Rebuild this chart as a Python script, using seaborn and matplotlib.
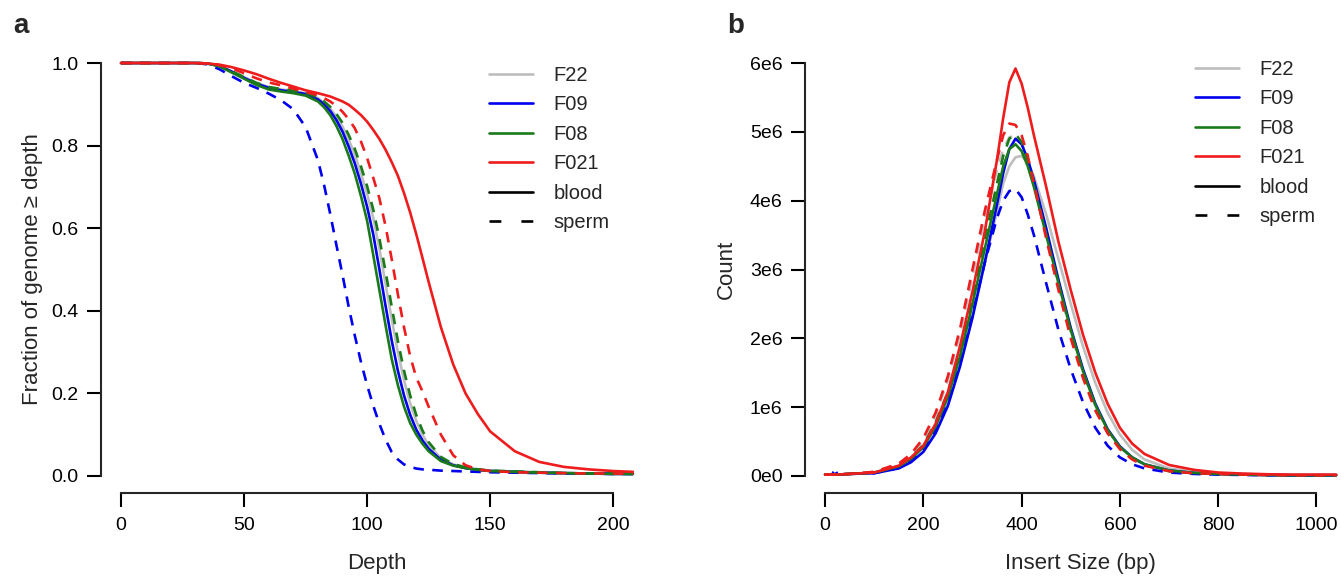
import matplotlib.pyplot as plt  # matplotlib for the figure and custom legend handles
from matplotlib.lines import Line2D
import pandas as pd
import seaborn as sns

# samples and colours
samples = ['F22', 'F09', 'F08', 'F021']
tissues = ['blood', 'sperm']
colors = {'F22': '#bebebe', 'F09': '#0000ee', 'F08': '#1a7a1a', 'F021': '#ee1c1c'}

# panel a: fraction of genome >= depth
depth = [0, 10, 20, 30, 35, 40, 45, 50, 55, 60, 65, 70, 75, 80, 82.5, 85, 87.5, 90, 92.5, 95,
         97.5, 100, 102.5, 105, 107.5, 110, 112.5, 115, 117.5, 120, 122.5, 125, 130, 135, 140,
         145, 150, 160, 170, 180, 190, 200, 208]
frac_F22_blood = [1, 1, 1, 1, 0.999, 0.993, 0.98, 0.966, 0.952, 0.942, 0.936, 0.932, 0.927, 0.915,
                  0.904, 0.89, 0.87, 0.846, 0.815, 0.778, 0.733, 0.683, 0.625, 0.55, 0.465, 0.38,
                  0.3, 0.232, 0.176, 0.133, 0.1, 0.075, 0.043, 0.028, 0.02, 0.016, 0.013, 0.011,
                  0.009, 0.007, 0.006, 0.006, 0.005]
frac_F09_blood = [1, 1, 1, 1, 0.999, 0.993, 0.979, 0.964, 0.95, 0.94, 0.934, 0.93, 0.925, 0.912,
                  0.9, 0.884, 0.862, 0.834, 0.798, 0.757, 0.708, 0.652, 0.585, 0.5, 0.412, 0.328,
                  0.255, 0.195, 0.148, 0.112, 0.086, 0.066, 0.039, 0.026, 0.019, 0.015, 0.012,
                  0.010, 0.008, 0.007, 0.006, 0.005, 0.005]
frac_F08_blood = [1, 1, 1, 1, 0.999, 0.992, 0.977, 0.962, 0.947, 0.936, 0.931, 0.927, 0.921, 0.907,
                  0.893, 0.874, 0.848, 0.816, 0.776, 0.732, 0.678, 0.618, 0.535, 0.45, 0.365, 0.283,
                  0.22, 0.168, 0.128, 0.1, 0.078, 0.06, 0.036, 0.025, 0.019, 0.015, 0.012, 0.010,
                  0.008, 0.007, 0.006, 0.005, 0.005]
frac_F021_blood = [1, 1, 1, 1, 0.999, 0.996, 0.99, 0.982, 0.973, 0.962, 0.952, 0.943, 0.934, 0.927,
                   0.923, 0.919, 0.913, 0.907, 0.899, 0.887, 0.874, 0.858, 0.838, 0.816, 0.79, 0.76,
                   0.727, 0.685, 0.638, 0.585, 0.528, 0.47, 0.36, 0.27, 0.2, 0.15, 0.108, 0.06,
                   0.034, 0.022, 0.016, 0.012, 0.01]
frac_F09_sperm = [1, 1, 1, 1, 0.997, 0.985, 0.968, 0.952, 0.94, 0.926, 0.91, 0.888, 0.845, 0.765,
                  0.705, 0.635, 0.56, 0.487, 0.41, 0.34, 0.276, 0.22, 0.17, 0.126, 0.088, 0.058,
                  0.04, 0.028, 0.022, 0.018, 0.016, 0.015, 0.013, 0.012, 0.011, 0.010, 0.009,
                  0.008, 0.007, 0.006, 0.006, 0.005, 0.005]
frac_F08_sperm = [1, 1, 1, 1, 0.999, 0.993, 0.98, 0.966, 0.952, 0.942, 0.937, 0.933, 0.928, 0.917,
                  0.907, 0.894, 0.877, 0.855, 0.826, 0.792, 0.75, 0.702, 0.645, 0.575, 0.495, 0.41,
                  0.327, 0.255, 0.195, 0.147, 0.11, 0.082, 0.046, 0.029, 0.021, 0.016, 0.013,
                  0.011, 0.009, 0.007, 0.006, 0.006, 0.005]
frac_F021_sperm = [1, 1, 1, 1, 0.999, 0.995, 0.987, 0.975, 0.963, 0.953, 0.946, 0.938, 0.93, 0.922,
                   0.915, 0.907, 0.896, 0.882, 0.864, 0.842, 0.81, 0.77, 0.722, 0.672, 0.605, 0.525,
                   0.44, 0.36, 0.29, 0.238, 0.205, 0.168, 0.1, 0.05, 0.026, 0.016, 0.012, 0.009,
                   0.008, 0.007, 0.006, 0.006, 0.005]

# panel b: insert size counts (millions)
insert = [0, 15, 20, 25, 50, 100, 150, 175, 200, 225, 250, 275, 300, 325, 350, 362.5, 375, 387.5,
          400, 412.5, 425, 450, 475, 500, 525, 550, 575, 600, 625, 650, 700, 750, 800, 850, 900,
          950, 1000, 1040]
count_F22_blood = [0.02, 0.02, 0.02, 0.02, 0.03, 0.05, 0.14, 0.25, 0.42, 0.7, 1.1, 1.65, 2.35, 3.1,
                   3.85, 4.25, 4.5, 4.63, 4.65, 4.55, 4.35, 3.8, 3.15, 2.5, 1.88, 1.35, 0.92, 0.6,
                   0.38, 0.24, 0.11, 0.06, 0.04, 0.03, 0.02, 0.02, 0.02, 0.02]
count_F09_blood = [0.02, 0.02, 0.02, 0.02, 0.03, 0.04, 0.11, 0.2, 0.35, 0.62, 1.02, 1.6, 2.3, 3.1,
                   3.95, 4.4, 4.75, 4.9, 4.82, 4.6, 4.3, 3.6, 2.85, 2.15, 1.55, 1.05, 0.68, 0.43,
                   0.27, 0.17, 0.08, 0.045, 0.03, 0.02, 0.015, 0.01, 0.01, 0.01]
count_F08_blood = [0.02, 0.02, 0.02, 0.02, 0.03, 0.05, 0.14, 0.25, 0.42, 0.72, 1.15, 1.75, 2.5, 3.3,
                   4.1, 4.5, 4.75, 4.82, 4.72, 4.5, 4.2, 3.5, 2.8, 2.12, 1.52, 1.03, 0.67, 0.42,
                   0.27, 0.17, 0.08, 0.045, 0.03, 0.02, 0.015, 0.01, 0.01, 0.01]
count_F021_blood = [0.02, 0.02, 0.02, 0.02, 0.03, 0.05, 0.15, 0.27, 0.44, 0.76, 1.22, 1.9, 2.68, 3.55,
                    4.6, 5.2, 5.72, 5.92, 5.7, 5.35, 4.95, 4.2, 3.4, 2.7, 2.05, 1.5, 1.05, 0.7,
                    0.47, 0.32, 0.16, 0.09, 0.05, 0.035, 0.025, 0.02, 0.02, 0.02]
count_F22_sperm = [0.02, 0.02, 0.02, 0.02, 0.03, 0.06, 0.17, 0.3, 0.52, 0.88, 1.4, 2.08, 2.9, 3.75,
                   4.45, 4.75, 4.92, 4.95, 4.85, 4.6, 4.25, 3.5, 2.75, 2.08, 1.5, 1.02, 0.67, 0.42,
                   0.26, 0.16, 0.075, 0.045, 0.03, 0.02, 0.015, 0.01, 0.01, 0.01]
count_F09_sperm = [0.02, 0.02, 0.12, 0.02, 0.03, 0.04, 0.12, 0.22, 0.38, 0.66, 1.08, 1.65, 2.35, 3.1,
                   3.75, 4.0, 4.14, 4.17, 4.05, 3.8, 3.5, 2.8, 2.12, 1.55, 1.07, 0.7, 0.44, 0.27,
                   0.17, 0.11, 0.05, 0.03, 0.02, 0.015, 0.01, 0.01, 0.01, 0.01]
count_F08_sperm = [0.02, 0.02, 0.02, 0.02, 0.03, 0.05, 0.15, 0.27, 0.45, 0.78, 1.22, 1.85, 2.6, 3.45,
                   4.25, 4.65, 4.9, 4.97, 4.85, 4.6, 4.25, 3.5, 2.75, 2.05, 1.45, 0.98, 0.63, 0.4,
                   0.25, 0.16, 0.07, 0.04, 0.03, 0.02, 0.015, 0.01, 0.01, 0.01]
count_F021_sperm = [0.02, 0.02, 0.02, 0.02, 0.03, 0.06, 0.18, 0.32, 0.55, 0.92, 1.45, 2.15, 3.0, 3.85,
                    4.6, 4.95, 5.12, 5.1, 4.95, 4.65, 4.25, 3.45, 2.7, 2.0, 1.42, 0.95, 0.62, 0.39,
                    0.24, 0.15, 0.07, 0.04, 0.03, 0.02, 0.015, 0.01, 0.01, 0.01]

depth_curves = {('F22', 'blood'): frac_F22_blood, ('F09', 'blood'): frac_F09_blood,
                ('F08', 'blood'): frac_F08_blood, ('F021', 'blood'): frac_F021_blood,
                ('F09', 'sperm'): frac_F09_sperm, ('F08', 'sperm'): frac_F08_sperm,
                ('F021', 'sperm'): frac_F021_sperm}
insert_curves = {('F22', 'blood'): count_F22_blood, ('F09', 'blood'): count_F09_blood,
                 ('F08', 'blood'): count_F08_blood, ('F021', 'blood'): count_F021_blood,
                 ('F22', 'sperm'): count_F22_sperm, ('F09', 'sperm'): count_F09_sperm,
                 ('F08', 'sperm'): count_F08_sperm, ('F021', 'sperm'): count_F021_sperm}

# long-form tables for seaborn
cov = pd.concat([pd.DataFrame({'depth': depth, 'frac': v, 'sample': s, 'tissue': t})
                 for (s, t), v in depth_curves.items()])
ins = pd.concat([pd.DataFrame({'size': insert, 'count': v, 'sample': s, 'tissue': t})
                 for (s, t), v in insert_curves.items()])

sns.set_style('ticks')
plt.rcParams['font.family'] = ['Liberation Sans', 'DejaVu Sans']

fig = plt.figure(figsize=(13.41, 5.8), dpi=100)
ax1 = fig.add_axes([100.6 / 1341, 1 - 492.5 / 580, 552.7 / 1341, 446 / 580])
ax2 = fig.add_axes([804.6 / 1341, 1 - 492.5 / 580, 552 / 1341, 446 / 580])

line_kw = dict(hue='sample', style='tissue', hue_order=samples, style_order=tissues,
               palette=colors, dashes={'blood': '', 'sperm': (4, 3.2)}, linewidth=1.9,
               legend=False, errorbar=None)
sns.lineplot(data=cov, x='depth', y='frac', ax=ax1, **line_kw)
sns.lineplot(data=ins, x='size', y='count', ax=ax2, **line_kw)

# R-style detached axes
ax1.set_xlim(-8.3, 216.3)
ax1.set_ylim(-0.04, 1.04)
ax1.set_xticks([0, 50, 100, 150, 200])
ax1.set_yticks([0, 0.2, 0.4, 0.6, 0.8, 1.0])
ax1.set_yticklabels(['0.0', '0.2', '0.4', '0.6', '0.8', '1.0'])
ax1.spines['left'].set_bounds(0, 1)
ax1.spines['bottom'].set_bounds(0, 200)
ax1.set_xlabel('Depth', fontsize=16, labelpad=13)
ax1.set_ylabel('Fraction of genome \u2265 depth', fontsize=16, labelpad=6)

ax2.set_xlim(-41.6, 1081.6)
ax2.set_ylim(-0.24, 6.24)
ax2.set_xticks([0, 200, 400, 600, 800, 1000])
ax2.set_yticks([0, 1, 2, 3, 4, 5, 6])
ax2.set_yticklabels(['0e0', '1e6', '2e6', '3e6', '4e6', '5e6', '6e6'])
ax2.spines['left'].set_bounds(0, 6)
ax2.spines['bottom'].set_bounds(0, 1000)
ax2.set_xlabel('Insert Size (bp)', fontsize=16, labelpad=13)
ax2.set_ylabel('Count', fontsize=16, labelpad=9)

handles = [Line2D([], [], color=colors[s], lw=1.9) for s in samples]
handles += [Line2D([], [], color='black', lw=1.9), Line2D([], [], color='black', lw=1.9, dashes=(4.5, 7.6))]
labels = samples + tissues

for ax, lx, ly in [(ax1, 489, 66), (ax2, 1195, 60)]:
    for side in ['top', 'right']:
        ax.spines[side].set_visible(False)
    for side in ['left', 'bottom']:
        ax.spines[side].set_linewidth(1.5)
    ax.tick_params(length=10, width=1.5, labelsize=14, pad=6, colors='black')
    ax.tick_params(axis='x', pad=8)
    ax.legend(handles, labels, loc='upper left', bbox_to_anchor=(lx / 1341, 1 - ly / 580),
              bbox_transform=fig.transFigure, frameon=False, fontsize=14.5, handlelength=2.2,
              handletextpad=1.0, labelspacing=0.52, borderpad=0, borderaxespad=0)

fig.text(13 / 1341, 1 - 33 / 580, 'a', fontsize=20, fontweight='bold', va='baseline')
fig.text(727 / 1341, 1 - 33 / 580, 'b', fontsize=20, fontweight='bold', va='baseline')

fig.savefig('out.png', dpi=100)
